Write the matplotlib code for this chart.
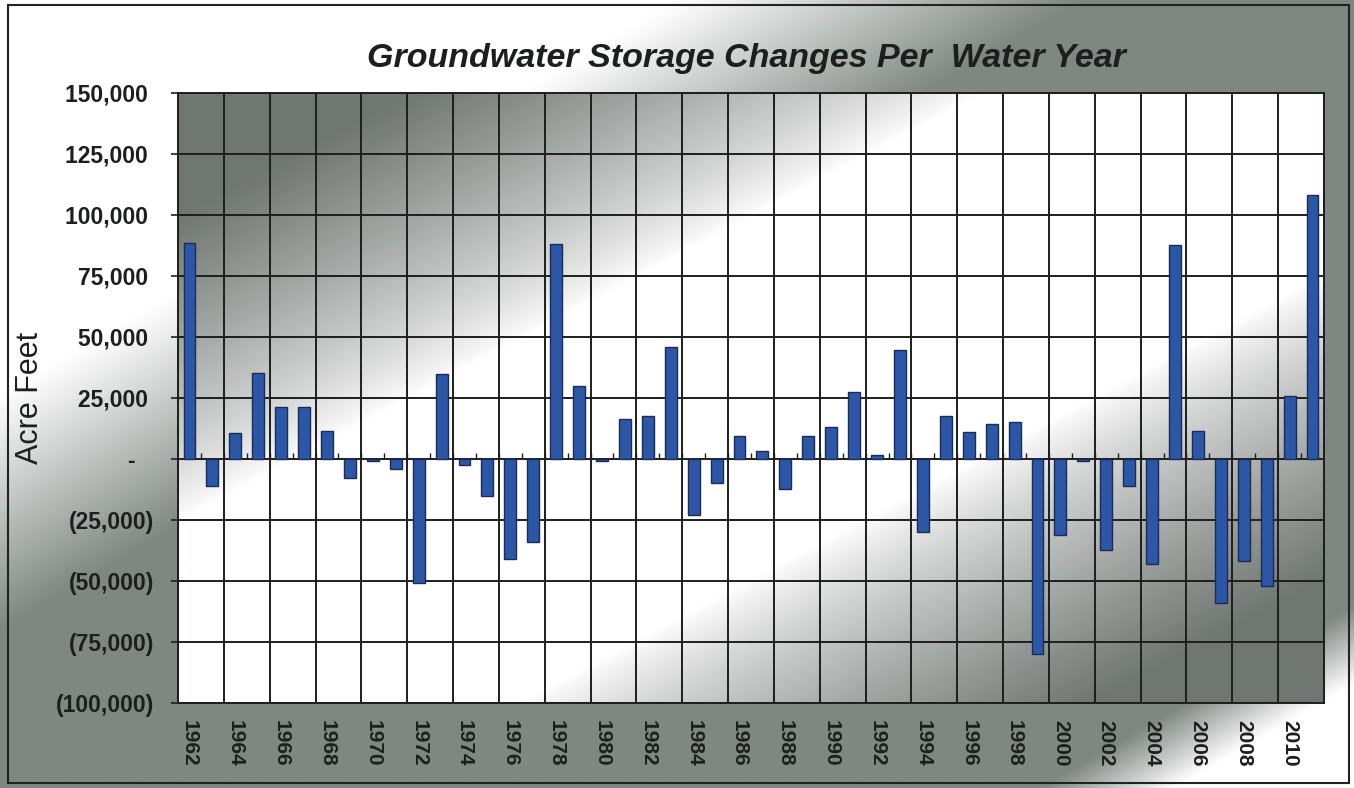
import numpy as np
import matplotlib.pyplot as plt
from matplotlib.patches import Rectangle

years = list(range(1962, 2012))
change = [88500, -11000, 10800, 35400, 21400, 21400, 11500, -8000, -1000, -4000,
          -51000, 35000, -2500, -15000, -41000, -34000, 88000, 30000, -1000, 16300,
          17600, 46000, -23000, -10000, 9600, 3200, -12500, 9500, 13000, 27500,
          1500, 44500, -30000, 17500, 11200, 14300, 15000, -80000, -31000, -1000,
          -37500, -11000, -43000, 87500, 11500, -59000, -42000, -52000, 26000, 108000]
yticks = [150000, 125000, 100000, 75000, 50000, 25000, 0, -25000, -50000, -75000, -100000]


def acct(v):
    if v == 0:
        return '-   '
    if v < 0:
        return '({:,})'.format(-v)
    return '{:,} '.format(v)


plt.rcParams['font.family'] = ['Liberation Sans', 'DejaVu Sans']
ink = '#1c1f1d'

fig = plt.figure(figsize=(13.54, 7.88), dpi=100)

# outer chart background gradient
bg = fig.add_axes([0, 0, 1, 1], zorder=-10)
xx, yy = np.meshgrid(np.linspace(0, 1, 400), np.linspace(0, 1, 300))
s = (1 - xx) + yy
t = xx + (1 - yy)
light = np.maximum(np.clip((s - 1.2) / 0.3, 0, 1), np.clip((t - 1.77) / 0.1, 0, 1))
gray = np.array([0x7f, 0x87, 0x82]) / 255
img = gray[None, None, :] * (1 - light[..., None]) + light[..., None]
bg.imshow(img, origin='lower', extent=[0, 1, 0, 1], aspect='auto')
bg.set_xlim(0, 1)
bg.set_ylim(0, 1)
bg.axis('off')
bg.add_patch(Rectangle((0.006, 0.006), 0.99, 0.988, fill=False, ec='#222222', lw=1.5))

ax = fig.add_axes([0.1315, 0.108, 0.8463, 0.774])

# plot area gradient, dark in the top-left and bottom-right corners
d = np.abs(xx - yy)
dark = np.clip((d - 0.3) / 0.5, 0, 1) ** 0.8
pgray = np.array([0x70, 0x76, 0x72]) / 255
pimg = pgray[None, None, :] * dark[..., None] + (1 - dark[..., None])
ax.imshow(pimg, origin='lower', extent=[0, 1, 0, 1], aspect='auto',
          transform=ax.transAxes, zorder=0)

x = np.arange(len(years))
ax.bar(x, change, width=0.52, color='#2c57a6', edgecolor='#1b2b55', lw=1.0, zorder=3)

# small category ticks at the zero line
ax.vlines(x[:-1] + 0.5, 0, 2300, color=ink, lw=1.0, zorder=2)

ax.set_xlim(-0.5, len(years) - 0.5)
ax.set_ylim(-100000, 150000)
ax.set_yticks(yticks)
ax.set_yticklabels([acct(v) for v in yticks], fontsize=16.5, fontweight='bold', color=ink)
ax.tick_params(axis='y', length=5, width=1.2, color=ink, pad=12)

ax.set_xticks(x[::2])
ax.set_xticklabels([str(y) for y in years[::2]], rotation=270, fontsize=15,
                   fontweight='bold', color=ink, va='top', ha='center')
ax.tick_params(axis='x', which='major', length=0, pad=12)
ax.set_xticks(np.arange(-0.5, len(years), 2), minor=True)
ax.tick_params(axis='x', which='minor', length=0)

ax.grid(axis='y', which='major', color=ink, lw=1.4, zorder=1)
ax.grid(axis='x', which='minor', color=ink, lw=1.4, zorder=1)
ax.set_axisbelow(False)
for sp in ax.spines.values():
    sp.set_color(ink)
    sp.set_linewidth(1.4)

fig.text(0.022, 0.495, 'Acre Feet', rotation=90, fontsize=22, color=ink,
         ha='center', va='center')
fig.text(0.551, 0.926, 'Groundwater Storage Changes Per  Water Year', fontsize=24.5,
         fontweight='bold', fontstyle='italic', color=ink, ha='center', va='center')

fig.savefig('out.png', dpi=100)
